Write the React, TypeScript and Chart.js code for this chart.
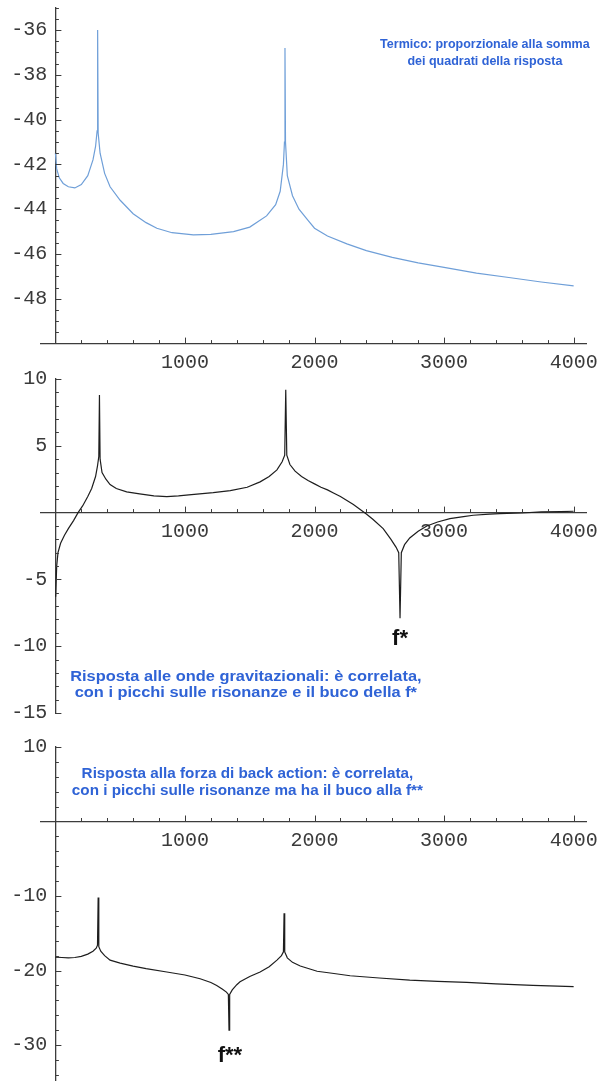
import React, { useEffect, useRef } from "react";
import { Chart, registerables } from "chart.js";

Chart.register(...registerables);

const PAGE_W = 602;
const PAGE_H = 1081;

// shared frequency axis (Hz)
const xTickValues = [1000, 2000, 3000, 4000];

// Panel 1: thermal noise (dB-like)
const thermFreq = [0, 10, 30, 60, 100, 150, 200, 250, 290, 310, 322, 326, 330, 345, 380, 422, 500, 600, 700, 783, 900, 1065, 1200, 1375, 1500, 1630, 1700, 1735, 1760, 1768, 1772, 1776, 1790, 1830, 1880, 1950, 2000, 2100, 2250, 2400, 2600, 2800, 3000, 3250, 3500, 3750, 4000];
const thermLevel = [-41.5, -42.2, -42.6, -42.85, -43.0, -43.05, -42.9, -42.5, -41.8, -41.2, -40.5, -36.0, -40.6, -41.5, -42.4, -43.0, -43.6, -44.2, -44.6, -44.85, -45.05, -45.15, -45.12, -45.0, -44.8, -44.3, -43.8, -43.2, -42.0, -41.0, -36.8, -41.0, -42.5, -43.4, -44.0, -44.5, -44.85, -45.2, -45.55, -45.85, -46.15, -46.4, -46.6, -46.85, -47.05, -47.25, -47.42];
const thermYTicks = [-36, -38, -40, -42, -44, -46, -48];

// Panel 2: response to gravitational waves
const gwFreq = [2, 10, 20, 40, 70, 100, 140, 175, 210, 250, 280, 310, 325, 335, 340, 345, 360, 390, 422, 470, 550, 650, 760, 860, 950, 1050, 1218, 1350, 1480, 1580, 1650, 1710, 1750, 1770, 1778, 1786, 1810, 1850, 1900, 1950, 2000, 2050, 2100, 2150, 2200, 2250, 2300, 2350, 2400, 2450, 2530, 2590, 2630, 2650, 2660, 2670, 2695, 2735, 2800, 2867, 2950, 3045, 3150, 3225, 3350, 3430, 3600, 3750, 3900, 4000];
const gwResp = [-6.3, -4.0, -3.0, -2.3, -1.7, -1.2, -0.6, 0.0, 0.5, 1.2, 1.8, 2.7, 3.5, 4.2, 8.8, 4.0, 3.0, 2.5, 2.1, 1.8, 1.55, 1.4, 1.25, 1.2, 1.25, 1.35, 1.5, 1.65, 1.9, 2.3, 2.7, 3.2, 3.8, 4.3, 9.2, 4.3, 3.6, 3.1, 2.7, 2.4, 2.15, 1.9, 1.7, 1.45, 1.2, 0.9, 0.6, 0.25, -0.1, -0.5, -1.2, -2.0, -2.6, -3.0, -7.9, -3.0, -2.4, -1.9, -1.4, -1.0, -0.7, -0.45, -0.3, -0.2, -0.12, -0.08, -0.03, 0.05, 0.08, 0.1];
const gwYTicks = [10, 5, -5, -10, -15];

// Panel 3: response to back-action force
const baFreq = [0, 50, 100, 150, 200, 250, 290, 315, 325, 330, 335, 350, 380, 422, 500, 600, 700, 860, 1000, 1117, 1200, 1245, 1290, 1320, 1335, 1340, 1345, 1365, 1400, 1425, 1500, 1580, 1650, 1710, 1745, 1760, 1765, 1770, 1790, 1830, 1890, 2020, 2150, 2275, 2500, 2735, 2950, 3175, 3400, 3685, 4000];
const baResp = [-18.2, -18.25, -18.3, -18.25, -18.1, -17.8, -17.4, -17.0, -16.6, -10.2, -16.8, -17.4, -18.0, -18.6, -19.0, -19.4, -19.75, -20.2, -20.6, -21.1, -21.6, -22.0, -22.5, -22.9, -23.2, -28.0, -23.2, -22.6, -21.9, -21.5, -20.8, -20.2, -19.5, -18.6, -18.0, -17.5, -12.3, -17.5, -18.3, -18.9, -19.4, -20.1, -20.4, -20.7, -21.0, -21.3, -21.45, -21.6, -21.8, -22.0, -22.15];
const baYTicks = [10, -10, -20, -30];

const thermNote = ["Termico: proporzionale alla somma", "dei quadrati della risposta"];
const gwNote = ["Risposta alle onde gravitazionali: è correlata,", "con i picchi sulle risonanze e il buco della f*"];
const baNote = ["Risposta alla forza di back action: è correlata,", "con i picchi sulle risonanze ma ha il buco alla f**"];

const NOTE_BLUE = "#2f63d6";
const AXIS_COLOR = "#3c3c3c";
const LABEL_COLOR = "#3a3a3a";

type Note = { lines: string[]; x: number; y: number[]; font: string; color: string; stretch: number };

type Panel = {
  freq: number[];
  vals: number[];
  color: string;
  yMin: number;
  yMax: number;
  yTicks: number[];
  yMinorStep: number;
  yMajorStep: number;
  xAxisAt: number;
  padTop: number;
  padBottom: number;
  notes: Note[];
};

const panels: Panel[] = [
  {
    freq: thermFreq,
    vals: thermLevel,
    color: "#6f9fd8",
    yMin: -50,
    yMax: -35,
    yTicks: thermYTicks,
    yMinorStep: 0.5,
    yMajorStep: 2,
    xAxisAt: -50,
    padTop: 7.6,
    padBottom: PAGE_H - 343.6,
    notes: [
      { lines: thermNote, x: 3315, y: [-36.67, -37.43], font: 'bold 12.5px "Liberation Sans"', color: NOTE_BLUE, stretch: 1 },
    ],
  },
  {
    freq: gwFreq,
    vals: gwResp,
    color: "#1e1e1e",
    yMin: -15,
    yMax: 10,
    yTicks: gwYTicks,
    yMinorStep: 1,
    yMajorStep: 5,
    xAxisAt: 0,
    padTop: 379,
    padBottom: PAGE_H - 713,
    notes: [
      { lines: gwNote, x: 1470, y: [-12.28, -13.55], font: 'bold 14px "Liberation Sans"', color: NOTE_BLUE, stretch: 1.17 },
      { lines: ["f*"], x: 2660, y: [-9.43], font: 'bold 22px "Liberation Sans"', color: "#111111", stretch: 1 },
    ],
  },
  {
    freq: baFreq,
    vals: baResp,
    color: "#1e1e1e",
    yMin: -34.8,
    yMax: 10,
    yTicks: baYTicks,
    yMinorStep: 2,
    yMajorStep: 10,
    xAxisAt: 0,
    padTop: 747,
    padBottom: 0.2,
    notes: [
      { lines: baNote, x: 1482, y: [6.3, 4.05], font: 'bold 14px "Liberation Sans"', color: NOTE_BLUE, stretch: 1.09 },
      { lines: ["f**"], x: 1347, y: [-31.5], font: 'bold 22px "Liberation Sans"', color: "#111111", stretch: 1 },
    ],
  },
];

function makeDecor(p: Panel) {
  return {
    id: "decor",
    afterDraw(chart: any) {
      const { ctx } = chart;
      const x = chart.scales.x;
      const y = chart.scales.y;
      const axisY = y.getPixelForValue(p.xAxisAt);
      const axisX = x.getPixelForValue(0);
      ctx.save();
      ctx.strokeStyle = AXIS_COLOR;
      ctx.lineWidth = 1;
      // x ticks: inward (upwards)
      for (let v = 200; v <= 4000; v += 200) {
        const px = Math.round(x.getPixelForValue(v)) + 0.5;
        const len = v % 1000 === 0 ? 6 : 3.5;
        ctx.beginPath();
        ctx.moveTo(px, axisY);
        ctx.lineTo(px, axisY - len);
        ctx.stroke();
      }
      // y ticks: inward (to the right)
      const start = Math.ceil(p.yMin / p.yMinorStep) * p.yMinorStep;
      for (let v = start; v <= p.yMax + 1e-9; v += p.yMinorStep) {
        const vv = Math.round(v * 100) / 100;
        if (Math.abs(vv - p.xAxisAt) < 1e-6) continue;
        const py = Math.round(y.getPixelForValue(vv)) + 0.5;
        const major = Math.abs(vv / p.yMajorStep - Math.round(vv / p.yMajorStep)) < 1e-6;
        const len = major ? 6 : 3.5;
        ctx.beginPath();
        ctx.moveTo(axisX, py);
        ctx.lineTo(axisX + len, py);
        ctx.stroke();
      }
      // notes
      ctx.textAlign = "center";
      ctx.textBaseline = "middle";
      for (const n of p.notes) {
        ctx.font = n.font;
        ctx.fillStyle = n.color;
        const cx = x.getPixelForValue(n.x);
        n.lines.forEach((line, i) => {
          ctx.save();
          ctx.translate(cx, y.getPixelForValue(n.y[i]));
          ctx.scale(n.stretch, 1);
          ctx.fillText(line, 0, 0);
          ctx.restore();
        });
      }
      ctx.restore();
    },
  };
}

const xTickFont = { family: "Liberation Mono", size: 20, lineHeight: 1.5 };
const yTickFont = { family: "Liberation Mono", size: 20 };

function PanelChart({ p }: { p: Panel }) {
  const ref = useRef<HTMLCanvasElement>(null);
  useEffect(() => {
    if (!ref.current) return;
    const yTickSetter = (s: any) => {
      s.ticks = p.yTicks.map((v) => ({ value: v }));
    };
    const chart = new Chart(ref.current, {
      type: "line",
      data: {
        datasets: [
          {
            data: p.freq.map((f, i) => ({ x: f, y: p.vals[i] })),
            borderColor: p.color,
            borderWidth: 1.2,
            pointRadius: 0,
            tension: 0,
            fill: false,
            yAxisID: "y",
          },
        ],
      },
      options: {
        responsive: false,
        animation: false,
        events: [],
        layout: { padding: { left: 40.5, right: 15.2, top: p.padTop, bottom: p.padBottom } },
        plugins: { legend: { display: false }, tooltip: { enabled: false }, title: { display: false } },
        scales: {
          x: {
            type: "linear",
            min: -115,
            max: 4100,
            position: { y: p.xAxisAt } as any,
            afterBuildTicks: (s: any) => {
              s.ticks = xTickValues.map((v) => ({ value: v }));
            },
            grid: { display: true, drawOnChartArea: false, drawTicks: false },
            border: { display: true, color: AXIS_COLOR, width: 1.3 },
            ticks: {
              font: xTickFont,
              color: LABEL_COLOR,
              padding: 4,
              maxRotation: 0,
              autoSkip: false,
              callback: (v: any) => String(v),
            },
          },
          y: {
            type: "linear",
            min: p.yMin,
            max: p.yMax,
            position: { x: 0 } as any,
            afterBuildTicks: yTickSetter,
            grid: { display: true, drawOnChartArea: false, drawTicks: false },
            border: { display: true, color: AXIS_COLOR, width: 1.3 },
            ticks: { display: false },
          },
          yLabels: {
            type: "linear",
            min: p.yMin,
            max: p.yMax,
            position: { x: -62 } as any,
            afterBuildTicks: yTickSetter,
            grid: { display: false },
            border: { display: false },
            ticks: {
              font: yTickFont,
              color: LABEL_COLOR,
              padding: -12,
              autoSkip: false,
              callback: (v: any) => String(v),
            },
          },
        },
      },
      plugins: [makeDecor(p)],
    } as any);
    return () => chart.destroy();
  }, [p]);
  return (
    <canvas
      ref={ref}
      width={PAGE_W}
      height={PAGE_H}
      style={{ position: "absolute", left: 0, top: 0, width: PAGE_W, height: PAGE_H }}
    />
  );
}

export default function App() {
  return (
    <div style={{ position: "absolute", left: 0, top: 0, width: PAGE_W, height: PAGE_H, background: "#ffffff", overflow: "hidden" }}>
      {panels.map((p, i) => (
        <PanelChart key={i} p={p} />
      ))}
    </div>
  );
}
